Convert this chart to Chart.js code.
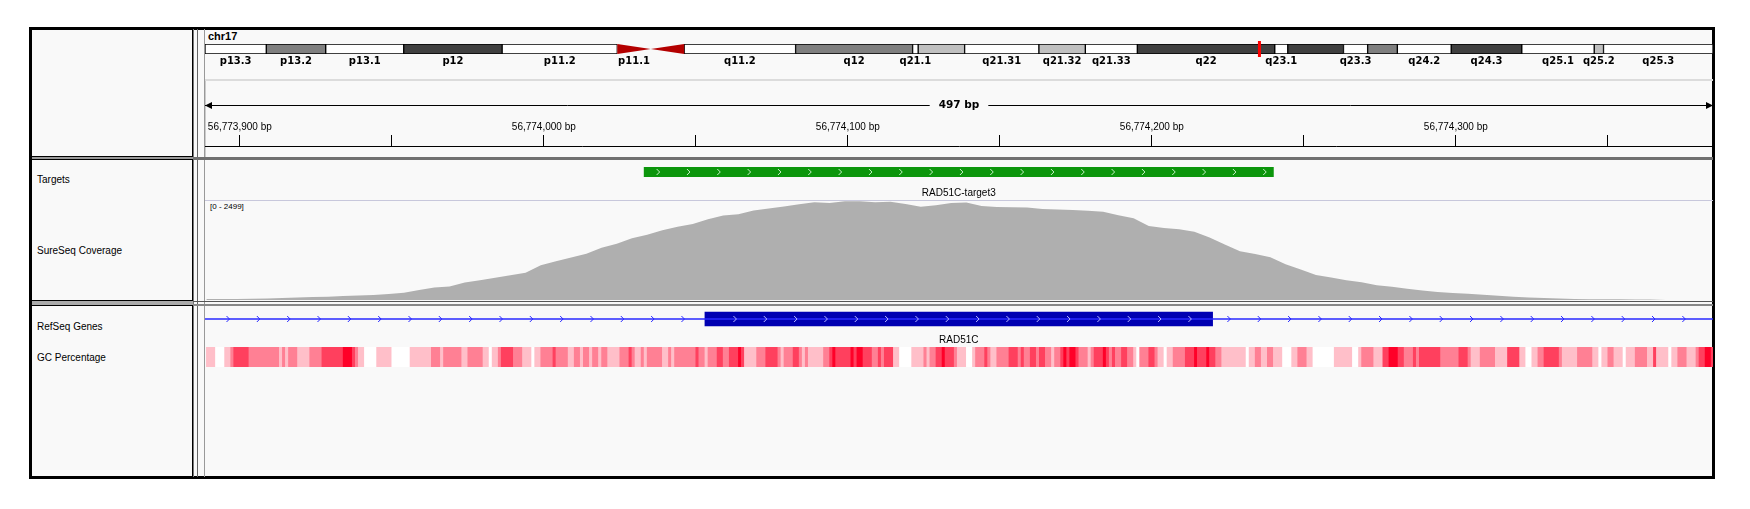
<!DOCTYPE html>
<html>
<head>
<meta charset="utf-8">
<script src="https://cdn.jsdelivr.net/npm/chart.js@4.4.1/dist/chart.umd.min.js"></script>
<style>
body { margin:0; width:1750px; height:509px; overflow:hidden; position:relative; background:#fff; font-family:"Liberation Sans", Arial, sans-serif; }
div, canvas { position:absolute; }
.frame { left:29px; top:27px; width:1686px; height:452px; box-sizing:border-box; border:3px solid #000; background:#f9f9f9; }
.name { left:37px; font-size:10px; line-height:12px; color:#000; white-space:nowrap; }
</style>
</head>
<body>
<div class="frame"></div>

<!-- panel dividers -->
<div style="left:192px;top:29px;width:1px;height:448px;background:#000"></div>
<div style="left:193px;top:29px;width:1px;height:448px;background:#777"></div>
<div style="left:197px;top:29px;width:1px;height:448px;background:#666"></div>
<div style="left:204px;top:29px;width:1px;height:448px;background:#999"></div>

<div style="left:32px;top:156px;width:161px;height:1px;background:#000"></div>
<div style="left:32px;top:157px;width:161px;height:2px;background:#999"></div>
<div style="left:32px;top:159px;width:161px;height:1px;background:#000"></div>
<div style="left:193px;top:157px;width:1520px;height:3px;background:#707070"></div>

<div style="left:32px;top:300px;width:161px;height:1px;background:#000"></div>
<div style="left:32px;top:301px;width:161px;height:4px;background:#aaa"></div>
<div style="left:32px;top:305px;width:161px;height:1px;background:#000"></div>
<div style="left:193px;top:301px;width:1520px;height:1px;background:#555"></div>
<div style="left:193px;top:304px;width:1520px;height:2px;background:#888"></div>

<div style="left:205px;top:79px;width:1508px;height:2px;background:#dcdcdc"></div>
<div style="left:205px;top:81px;width:1px;height:76px;background:#ccc"></div>
<div style="left:205px;top:200px;width:1508px;height:1px;background:#c8c8dc"></div>

<!-- names -->
<div style="left:208px;top:29px;font:bold 11px 'Liberation Sans';line-height:14px">chr17</div>
<div class="name" style="top:174px">Targets</div>
<div class="name" style="top:245px">SureSeq Coverage</div>
<div class="name" style="top:321px">RefSeq Genes</div>
<div class="name" style="top:352px">GC Percentage</div>
<div style="left:210px;top:202px;font-size:8px;line-height:10px">[0 - 2499]</div>

<canvas id="ideoChart" style="left:205px;top:40px" width="1508" height="30"></canvas>
<canvas id="rulerChart" style="left:205px;top:90px" width="1508" height="67"></canvas>
<canvas id="targetChart" style="left:205px;top:162px" width="1508" height="38"></canvas>
<canvas id="covChart" style="left:205px;top:201px" width="1508" height="99"></canvas>
<canvas id="geneChart" style="left:205px;top:306px" width="1508" height="40"></canvas>
<canvas id="gcChart" style="left:205px;top:347px" width="1508" height="20"></canvas>

<script>
// visible locus, chr17 (hg19)
var viewStart = 56773888.55;
var viewEnd = 56774384.6;
var chrLength = 81195210;

// cytobands
var bandStart = [0, 3300000, 6500000, 10700000, 16000000, 22200000, 24000000, 25800000, 31800000, 38100000, 38400000, 40900000, 44900000, 47400000, 50200000, 57600000, 58300000, 61300000, 62600000, 64200000, 67100000, 70900000, 74800000, 75300000];
var bandEnd = [3300000, 6500000, 10700000, 16000000, 22200000, 24000000, 25800000, 31800000, 38100000, 38400000, 40900000, 44900000, 47400000, 50200000, 57600000, 58300000, 61300000, 62600000, 64200000, 67100000, 70900000, 74800000, 75300000, 81195210];
var bandStain = ['gneg', 'gpos50', 'gneg', 'gpos75', 'gneg', 'acen', 'acen', 'gneg', 'gpos50', 'gneg', 'gpos25', 'gneg', 'gpos25', 'gneg', 'gpos75', 'gneg', 'gpos75', 'gneg', 'gpos50', 'gneg', 'gpos75', 'gneg', 'gpos25', 'gneg'];
var bandLabel = ['p13.3', 'p13.2', 'p13.1', 'p12', 'p11.2', 'p11.1', '', 'q11.2', 'q12', 'q21.1', '', 'q21.31', 'q21.32', 'q21.33', 'q22', 'q23.1', '', 'q23.3', '', 'q24.2', 'q24.3', 'q25.1', 'q25.2', 'q25.3'];

// features
var targetName = 'RAD51C-target3';
var targetStart = 56774033;
var targetEnd = 56774240;
var geneName = 'RAD51C';
var geneStart = 56769934;
var geneEnd = 56811703;
var exonStart = 56774053;
var exonEnd = 56774220;

// coverage, one value every 5 bp from covStart
var covStart = 56773889;
var covStep = 5;
var covDepth = [25, 25, 28, 30, 35, 50, 60, 75, 80, 100,
    115, 127, 150, 185, 255, 314, 338, 440, 500, 560,
    625, 690, 880, 975, 1075, 1170, 1320, 1420, 1560, 1650,
    1760, 1850, 1920, 2040, 2130, 2167, 2260, 2310, 2360, 2420,
    2465, 2450, 2495, 2490, 2470, 2480, 2425, 2355, 2390, 2450,
    2460, 2370, 2350, 2340, 2335, 2300, 2285, 2270, 2250, 2230,
    2140, 2065, 1870, 1820, 1785, 1720, 1580, 1400, 1230, 1160,
    1080, 900, 770, 630, 570, 500, 445, 370, 335, 285,
    240, 200, 175, 160, 135, 110, 85, 60, 50, 35,
    28, 22, 20, 18, 15, 10, 0, 0, 0, 0];
var covMax = 2499;

// GC percentage runs: start offset (bp from gcOrigin) and GC %
var gcOrigin = 56773889;
var gcEndOffset = 497;
var gcBreak = [0, 3, 6, 8, 9, 14, 24, 25, 26, 27, 30, 34, 38, 45, 48, 49, 50, 52, 56, 61,
    67, 74, 77, 78, 84, 86, 91, 93, 94, 96, 97, 101, 104, 107, 108, 110, 114, 115, 119, 121,
    123, 124, 126, 127, 129, 130, 132, 136, 139, 140, 141, 143, 144, 145, 150, 152, 153, 154, 161, 162,
    164, 165, 168, 170, 172, 175, 176, 177, 181, 184, 188, 189, 190, 193, 195, 196, 197, 198, 203, 205,
    206, 207, 212, 213, 214, 216, 219, 221, 222, 223, 226, 228, 232, 236, 237, 238, 240, 242, 243, 246,
    247, 250, 252, 253, 256, 257, 258, 260, 264, 267, 268, 269, 271, 273, 274, 276, 278, 279, 281, 282,
    283, 284, 286, 287, 290, 291, 292, 295, 296, 297, 298, 299, 301, 303, 305, 306, 307, 310, 312, 313,
    315, 316, 318, 322, 325, 326, 329, 330, 332, 334, 342, 343, 345, 347, 349, 351, 354, 357, 359, 362,
    364, 371, 377, 379, 380, 384, 387, 389, 392, 394, 397, 398, 399, 406, 412, 415, 416, 419, 424, 428,
    432, 434, 436, 438, 440, 445, 446, 451, 456, 458, 459, 461, 463, 466, 467, 470, 474, 476, 477, 481,
    482, 484, 487, 490, 491, 493, 495];
var gcPct = [45, 30, 45, 55, 65, 55, 45, 55, 45, 55, 45, 55, 65, 75, 65, 55, 45, 30, 45, 30,
    45, 55, 45, 55, 45, 55, 45, 30, 45, 55, 65, 55, 45, 30, 45, 55, 65, 55, 45, 55,
    45, 55, 45, 55, 45, 55, 45, 55, 65, 55, 45, 55, 45, 55, 45, 55, 45, 55, 65, 55,
    45, 55, 65, 55, 65, 75, 65, 45, 55, 65, 55, 45, 55, 65, 55, 45, 55, 45, 55, 65,
    75, 65, 75, 65, 75, 65, 55, 65, 55, 65, 45, 30, 45, 55, 45, 55, 65, 75, 65, 55,
    45, 30, 45, 55, 65, 55, 45, 55, 65, 55, 65, 55, 65, 55, 65, 55, 45, 55, 65, 75,
    65, 75, 65, 55, 45, 55, 65, 75, 65, 55, 65, 55, 65, 55, 45, 30, 55, 65, 55, 45,
    30, 45, 55, 65, 75, 65, 75, 65, 55, 45, 30, 45, 55, 45, 55, 45, 30, 45, 55, 45,
    30, 45, 30, 45, 55, 45, 65, 75, 65, 55, 65, 55, 65, 55, 65, 55, 45, 55, 45, 65,
    45, 30, 45, 55, 65, 55, 45, 55, 45, 30, 45, 55, 45, 30, 45, 55, 45, 65, 45, 30,
    45, 55, 45, 55, 65, 75, 65];

var stainColor = { gneg: '#ffffff', gpos25: '#c0c0c0', gpos50: '#808080', gpos75: '#404040', acen: '#b40000' };

Chart.defaults.font.family = '"Liberation Sans", Arial, sans-serif';
Chart.defaults.animation = false;
Chart.defaults.events = [];
Chart.defaults.plugins.legend.display = false;
Chart.defaults.plugins.tooltip.enabled = false;
Chart.defaults.responsive = false;

function gcColor(v) {
    var t = Math.max(0, Math.min(1, (v - 35) / 40));
    return 'rgb(255,' + Math.round(255 - 255 * t) + ',' + Math.round(255 - 215 * t) + ')';
}

function chevron(ctx, x, y, color) {
    ctx.strokeStyle = color;
    ctx.lineWidth = 1;
    ctx.beginPath();
    ctx.moveTo(x - 1.5, y - 3);
    ctx.lineTo(x + 1.5, y);
    ctx.lineTo(x - 1.5, y + 3);
    ctx.stroke();
}

function hiddenAxes(xMin, xMax) {
    return {
        x: { type: 'linear', min: xMin, max: xMax, display: false },
        y: { type: 'category', display: false }
    };
}

// ideogram
var ideoBands = [];
var ideoColors = [];
bandStart.forEach(function(s, i) {
    if (bandStain[i] !== 'acen') {
        ideoBands.push({ x: [s, bandEnd[i]], y: 'chr17' });
        ideoColors.push(stainColor[bandStain[i]]);
    }
});

new Chart(document.getElementById('ideoChart'), {
    type: 'bar',
    data: {
        labels: ['chr17'],
        datasets: [{
            data: ideoBands,
            backgroundColor: ideoColors,
            borderColor: '#000',
            borderWidth: 1,
            borderSkipped: false,
            barPercentage: 1,
            categoryPercentage: 1
        }]
    },
    options: {
        indexAxis: 'y',
        layout: { padding: { top: 4, bottom: 16 } },
        scales: hiddenAxes(0, chrLength)
    },
    plugins: [{
        id: 'ideoExtras',
        afterDatasetsDraw: function(chart) {
            var ctx = chart.ctx, xs = chart.scales.x, a = chart.chartArea;
            var mid = (a.top + a.bottom) / 2;
            ctx.save();
            bandStart.forEach(function(s, i) {
                var x0 = xs.getPixelForValue(s), x1 = xs.getPixelForValue(bandEnd[i]);
                if (bandStain[i] === 'acen') {
                    ctx.fillStyle = stainColor.acen;
                    ctx.beginPath();
                    if (bandLabel[i].charAt(0) === 'p') {
                        ctx.moveTo(x0, a.top); ctx.lineTo(x1, mid); ctx.lineTo(x0, a.bottom);
                    } else {
                        ctx.moveTo(x1, a.top); ctx.lineTo(x0, mid); ctx.lineTo(x1, a.bottom);
                    }
                    ctx.closePath();
                    ctx.fill();
                }
                if (bandLabel[i]) {
                    ctx.fillStyle = '#000';
                    ctx.font = 'bold 10px "DejaVu Sans"';
                    ctx.textAlign = 'center';
                    ctx.textBaseline = 'middle';
                    ctx.fillText(bandLabel[i], (x0 + x1) / 2, a.bottom + 7);
                }
            });
            var vx = xs.getPixelForValue((viewStart + viewEnd) / 2);
            ctx.fillStyle = '#ff0000';
            ctx.fillRect(vx - 1.5, a.top - 3, 3, a.bottom - a.top + 6);
            ctx.restore();
        }
    }]
});

// ruler
new Chart(document.getElementById('rulerChart'), {
    type: 'scatter',
    data: { datasets: [] },
    options: {
        layout: { padding: 0 },
        scales: {
            x: {
                type: 'linear', position: 'top', min: viewStart, max: viewEnd,
                afterFit: function(scale) { scale.height = 56; },
                ticks: {
                    stepSize: 50, maxTicksLimit: 30, includeBounds: false, autoSkip: false, maxRotation: 0,
                    color: '#000', padding: 2, font: { size: 10 },
                    callback: function(v) { return v % 100 === 0 ? v.toLocaleString('en-US') + ' bp' : ''; }
                },
                grid: { drawOnChartArea: false, drawTicks: true, tickLength: 11, color: '#000', lineWidth: 1 },
                border: { display: true, color: '#000', width: 1 }
            },
            y: { display: false, min: 0, max: 1 }
        }
    },
    plugins: [{
        id: 'spanArrow',
        afterDraw: function(chart) {
            var ctx = chart.ctx, a = chart.chartArea;
            var y = a.top - 41 + 0.5;
            var cx = (a.left + a.right) / 2;
            var label = (Math.round(viewEnd - viewStart) + 1) + ' bp';
            ctx.save();
            ctx.font = 'bold 10.5px "DejaVu Sans"';
            var w = ctx.measureText(label).width;
            ctx.strokeStyle = '#000';
            ctx.lineWidth = 1;
            ctx.beginPath();
            ctx.moveTo(a.left, y); ctx.lineTo(cx - w / 2 - 9, y);
            ctx.moveTo(cx + w / 2 + 9, y); ctx.lineTo(a.right, y);
            ctx.stroke();
            ctx.fillStyle = '#000';
            ctx.beginPath();
            ctx.moveTo(a.left, y); ctx.lineTo(a.left + 7, y - 3.5); ctx.lineTo(a.left + 7, y + 3.5);
            ctx.closePath(); ctx.fill();
            ctx.beginPath();
            ctx.moveTo(a.right, y); ctx.lineTo(a.right - 7, y - 3.5); ctx.lineTo(a.right - 7, y + 3.5);
            ctx.closePath(); ctx.fill();
            ctx.textAlign = 'center';
            ctx.textBaseline = 'middle';
            ctx.fillText(label, cx, y);
            ctx.restore();
        }
    }]
});

// targets
new Chart(document.getElementById('targetChart'), {
    type: 'bar',
    data: {
        labels: ['Targets'],
        datasets: [{
            data: [{ x: [targetStart, targetEnd], y: 'Targets' }],
            backgroundColor: 'rgb(12,150,12)',
            borderWidth: 0,
            barPercentage: 1,
            categoryPercentage: 1
        }]
    },
    options: {
        indexAxis: 'y',
        layout: { padding: { top: 5, bottom: 23 } },
        scales: hiddenAxes(viewStart, viewEnd)
    },
    plugins: [{
        id: 'targetExtras',
        afterDatasetsDraw: function(chart) {
            var ctx = chart.ctx, xs = chart.scales.x, a = chart.chartArea;
            var x0 = xs.getPixelForValue(targetStart), x1 = xs.getPixelForValue(targetEnd);
            var mid = (a.top + a.bottom) / 2;
            ctx.save();
            for (var x = x0 + 14; x < x1 - 3; x += 30.33) chevron(ctx, x, mid, '#c8f0c8');
            ctx.fillStyle = '#000';
            ctx.font = '10px "Liberation Sans"';
            ctx.textAlign = 'center';
            ctx.textBaseline = 'middle';
            ctx.fillText(targetName, (x0 + x1) / 2, a.bottom + 16);
            ctx.restore();
        }
    }]
});

// coverage
var covPoints = covDepth.map(function(d, i) { return { x: covStart + i * covStep, y: d }; });
new Chart(document.getElementById('covChart'), {
    type: 'line',
    data: {
        datasets: [{
            data: covPoints,
            fill: 'origin',
            backgroundColor: 'rgb(175,175,175)',
            borderColor: 'rgb(175,175,175)',
            borderWidth: 0,
            pointRadius: 0,
            tension: 0
        }]
    },
    options: {
        layout: { padding: 0 },
        scales: {
            x: { type: 'linear', min: viewStart, max: viewEnd, display: false },
            y: { min: 0, max: covMax, display: false }
        }
    }
});

// RefSeq gene
new Chart(document.getElementById('geneChart'), {
    type: 'bar',
    data: {
        labels: [geneName],
        datasets: [{
            data: [{ x: [geneStart, geneEnd], y: geneName }],
            backgroundColor: 'rgb(40,40,255)',
            borderWidth: 0,
            barThickness: 1,
            grouped: false
        }, {
            data: [{ x: [exonStart, exonEnd], y: geneName }],
            backgroundColor: 'rgb(0,0,178)',
            borderWidth: 0,
            barThickness: 14,
            grouped: false
        }]
    },
    options: {
        indexAxis: 'y',
        layout: { padding: { top: 0, bottom: 14 } },
        scales: hiddenAxes(viewStart, viewEnd)
    },
    plugins: [{
        id: 'geneExtras',
        afterDatasetsDraw: function(chart) {
            var ctx = chart.ctx, xs = chart.scales.x, a = chart.chartArea;
            var x0 = xs.getPixelForValue(exonStart), x1 = xs.getPixelForValue(exonEnd);
            var mid = (a.top + a.bottom) / 2;
            ctx.save();
            for (var x = a.left + 23; x < a.right; x += 30.33) {
                if (x < x0 - 2 || x > x1 + 2) chevron(ctx, x, mid, 'rgb(40,40,255)');
            }
            for (var xe = x0 + 30; xe < x1 - 4; xe += 30.33) chevron(ctx, xe, mid, '#b8b8ff');
            ctx.fillStyle = '#000';
            ctx.font = '10px "Liberation Sans"';
            ctx.textAlign = 'center';
            ctx.textBaseline = 'middle';
            ctx.fillText(geneName, (x0 + x1) / 2, a.bottom + 8);
            ctx.restore();
        }
    }]
});

// GC percentage heatmap
var gcRuns = gcBreak.map(function(b, i) {
    var e = i + 1 < gcBreak.length ? gcBreak[i + 1] : gcEndOffset;
    return { x: [gcOrigin + b, gcOrigin + e], y: 'GC' };
});
new Chart(document.getElementById('gcChart'), {
    type: 'bar',
    data: {
        labels: ['GC'],
        datasets: [{
            data: gcRuns,
            backgroundColor: gcPct.map(gcColor),
            borderWidth: 0,
            barPercentage: 1,
            categoryPercentage: 1
        }]
    },
    options: {
        indexAxis: 'y',
        layout: { padding: 0 },
        scales: hiddenAxes(viewStart, viewEnd)
    }
});
</script>
</body>
</html>
